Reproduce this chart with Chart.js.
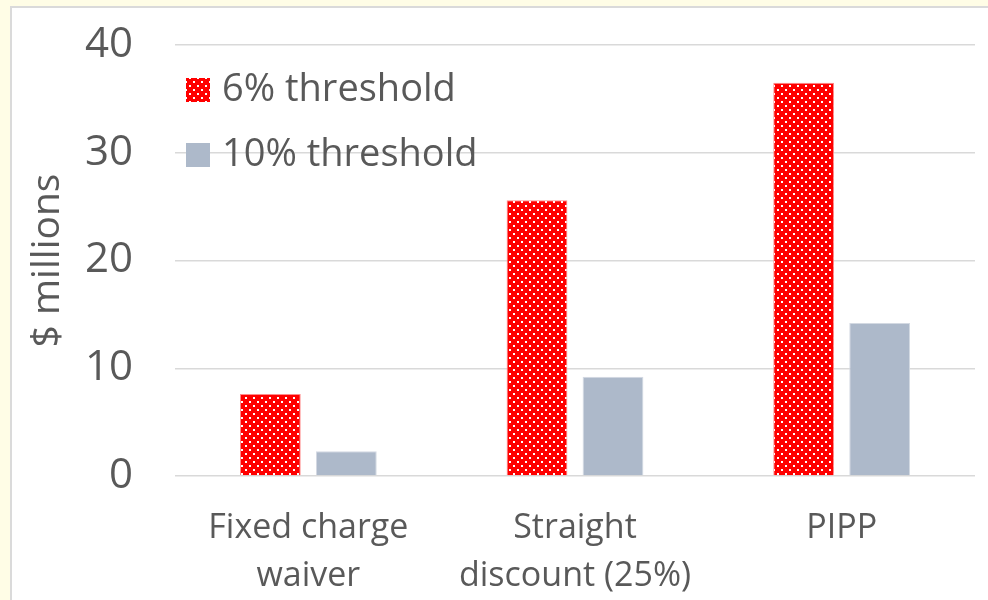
<!DOCTYPE html>
<html>
<head>
<meta charset="utf-8">
<script src="https://cdn.jsdelivr.net/npm/chart.js@4.4.1/dist/chart.umd.min.js"></script>
<style>
  html, body { margin: 0; padding: 0; background: #fffde6; }
  #wrap { position: relative; width: 988px; height: 600px; overflow: hidden; }
  #box { position: absolute; left: 10px; top: 6px; width: 990px; height: 620px;
         background: #fff; border: 2px solid #dadada; }
  #c { position: absolute; left: 0; top: 0; }
</style>
</head>
<body>
<div id="wrap">
  <div id="box"></div>
  <canvas id="c" width="988" height="600"></canvas>
</div>
<script>
// categories and series
const categories = [['Fixed charge', 'waiver'], ['Straight', 'discount (25%)'], ['PIPP']];
const seriesNames = ['6% threshold', '10% threshold'];
const sixPct = [7.6, 25.6, 36.5];
const tenPct = [2.3, 9.2, 14.2];
const yTicks = [0, 10, 20, 30, 40];

const RED = '#ff0000';
const GREY = '#adb9ca';
const TEXT = '#595959';
const FONT = "'Open Sans', sans-serif";

// red fill with staggered white dots
function dotPattern() {
  const t = document.createElement('canvas');
  t.width = 8; t.height = 8;
  const g = t.getContext('2d');
  g.fillStyle = RED;
  g.fillRect(0, 0, 8, 8);
  g.fillStyle = '#ffffff';
  g.fillRect(1, 1, 2, 2);
  g.fillRect(5, 5, 2, 2);
  return g.createPattern(t, 'repeat');
}
const RED_DOTS = dotPattern();

// legend drawn inside the plot, stacked; the gridline runs through it
const innerLegend = {
  id: 'innerLegend',
  afterDatasetsDraw(chart) {
    const { ctx, chartArea } = chart;
    ctx.save();
    ctx.font = '38px ' + FONT;
    ctx.textBaseline = 'middle';
    chart.data.datasets.forEach((ds, i) => {
      const y = chartArea.top + 45 + i * 65;
      const x = chartArea.left + 11;
      ctx.fillStyle = ds.backgroundColor;
      ctx.fillRect(x, y - 12, 24, 24);
      ctx.fillStyle = TEXT;
      ctx.fillText(ds.label, x + 36, y);
    });
    ctx.restore();
  }
};

new Chart(document.getElementById('c'), {
  type: 'bar',
  data: {
    labels: categories,
    datasets: [
      { label: seriesNames[0], data: sixPct, backgroundColor: RED_DOTS,
        borderColor: '#ff8a8a', borderWidth: 1 },
      { label: seriesNames[1], data: tenPct, backgroundColor: GREY,
        borderColor: '#d3d9e2', borderWidth: 1 },
    ]
  },
  options: {
    responsive: false,
    animation: false,
    layout: { padding: { top: 45, right: 13, left: 0, bottom: 0 } },
    datasets: { bar: { categoryPercentage: 0.57, barPercentage: 0.8 } },
    scales: {
      x: {
        afterFit: s => { s.height = 124; s.paddingLeft = 0; s.paddingRight = 0; },
        grid: { display: false },
        border: { display: false },
        ticks: { color: TEXT, font: { family: FONT, size: 34, lineHeight: 1.4 }, padding: 21, maxRotation: 0 }
      },
      y: {
        min: 0, max: 40,
        afterBuildTicks: s => { s.ticks = yTicks.map(v => ({ value: v })); },
        afterFit: s => { s.width = 175; s.paddingTop = 0; s.paddingBottom = 0; },
        grid: { color: '#d9d9d9', lineWidth: 1.5, drawTicks: false },
        border: { display: false },
        ticks: { color: TEXT, font: { family: FONT, size: 42 }, padding: 42 },
        title: { display: true, text: '$ millions', color: TEXT,
                 font: { family: FONT, size: 39 }, padding: { top: 24, bottom: 0 } }
      }
    },
    plugins: { legend: { display: false }, tooltip: { enabled: false } }
  },
  plugins: [innerLegend]
});
</script>
</body>
</html>
